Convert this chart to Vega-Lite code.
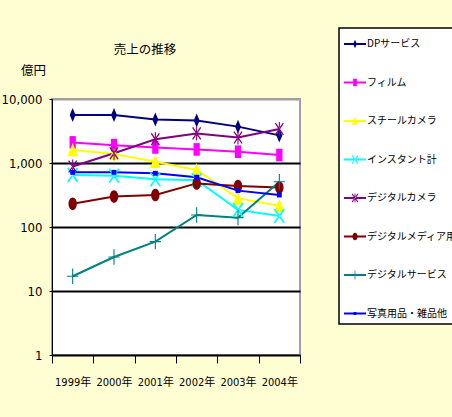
{
  "$schema": "https://vega.github.io/schema/vega-lite/v6.json",
  "width": 248,
  "height": 256,
  "autosize": "none",
  "padding": {"left": 52, "top": 99, "right": 152, "bottom": 62},
  "background": "#FFFDD2",
  "title": {
    "text": "売上の推移",
    "font": "Noto Sans CJK JP",
    "fontSize": 12.5,
    "fontWeight": "normal",
    "color": "black",
    "anchor": "middle",
    "dx": -31,
    "dy": 39,
    "offset": 10
  },
  "config": {
    "view": {"fill": "white", "stroke": "#A0A0A0", "strokeWidth": 2},
    "axis": {"labelFont": "Liberation Sans Narrow, DejaVu Sans Condensed, Noto Sans CJK JP", "labelColor": "black", "titleColor": "black"}
  },
  "data": {
    "values": [
      {"year": "1999年", "series": "DPサービス", "value": 5600},
      {"year": "2000年", "series": "DPサービス", "value": 5600},
      {"year": "2001年", "series": "DPサービス", "value": 4800},
      {"year": "2002年", "series": "DPサービス", "value": 4600},
      {"year": "2003年", "series": "DPサービス", "value": 3700},
      {"year": "2004年", "series": "DPサービス", "value": 2700},
      {"year": "1999年", "series": "フィルム", "value": 2100},
      {"year": "2000年", "series": "フィルム", "value": 1900},
      {"year": "2001年", "series": "フィルム", "value": 1750},
      {"year": "2002年", "series": "フィルム", "value": 1630},
      {"year": "2003年", "series": "フィルム", "value": 1500},
      {"year": "2004年", "series": "フィルム", "value": 1330},
      {"year": "1999年", "series": "スチールカメラ", "value": 1600},
      {"year": "2000年", "series": "スチールカメラ", "value": 1380},
      {"year": "2001年", "series": "スチールカメラ", "value": 1050},
      {"year": "2002年", "series": "スチールカメラ", "value": 780},
      {"year": "2003年", "series": "スチールカメラ", "value": 280},
      {"year": "2004年", "series": "スチールカメラ", "value": 215},
      {"year": "1999年", "series": "インスタント計", "value": 650},
      {"year": "2000年", "series": "インスタント計", "value": 630},
      {"year": "2001年", "series": "インスタント計", "value": 555},
      {"year": "2002年", "series": "インスタント計", "value": 540},
      {"year": "2003年", "series": "インスタント計", "value": 185},
      {"year": "2004年", "series": "インスタント計", "value": 148},
      {"year": "1999年", "series": "デジタルカメラ", "value": 880},
      {"year": "2000年", "series": "デジタルカメラ", "value": 1420},
      {"year": "2001年", "series": "デジタルカメラ", "value": 2350},
      {"year": "2002年", "series": "デジタルカメラ", "value": 2900},
      {"year": "2003年", "series": "デジタルカメラ", "value": 2500},
      {"year": "2004年", "series": "デジタルカメラ", "value": 3400},
      {"year": "1999年", "series": "デジタルメディア用品", "value": 230},
      {"year": "2000年", "series": "デジタルメディア用品", "value": 300},
      {"year": "2001年", "series": "デジタルメディア用品", "value": 316},
      {"year": "2002年", "series": "デジタルメディア用品", "value": 480},
      {"year": "2003年", "series": "デジタルメディア用品", "value": 436},
      {"year": "2004年", "series": "デジタルメディア用品", "value": 415},
      {"year": "1999年", "series": "デジタルサービス", "value": 17},
      {"year": "2000年", "series": "デジタルサービス", "value": 34},
      {"year": "2001年", "series": "デジタルサービス", "value": 59},
      {"year": "2002年", "series": "デジタルサービス", "value": 154},
      {"year": "2003年", "series": "デジタルサービス", "value": 140},
      {"year": "2004年", "series": "デジタルサービス", "value": 510},
      {"year": "1999年", "series": "写真用品・雑品他", "value": 715},
      {"year": "2000年", "series": "写真用品・雑品他", "value": 715},
      {"year": "2001年", "series": "写真用品・雑品他", "value": 690},
      {"year": "2002年", "series": "写真用品・雑品他", "value": 600},
      {"year": "2003年", "series": "写真用品・雑品他", "value": 370},
      {"year": "2004年", "series": "写真用品・雑品他", "value": 316}
    ]
  },
  "encoding": {
    "x": {
      "field": "year",
      "type": "ordinal",
      "scale": {"type": "band", "paddingInner": 0, "paddingOuter": 0},
      "axis": {
        "title": null,
        "labelAngle": 0,
        "labelFontSize": 11,
        "labelPadding": 13,
        "tickBand": "extent",
        "tickSize": 8,
        "tickColor": "black",
        "domainColor": "black",
        "domainWidth": 1,
        "grid": false
      }
    },
    "y": {
      "field": "value",
      "type": "quantitative",
      "scale": {"type": "log", "domain": [1, 10000], "nice": false},
      "axis": {
        "values": [1, 10, 100, 1000, 10000],
        "format": ",",
        "labelFontSize": 13,
        "labelPadding": 7,
        "tickSize": 3,
        "tickColor": "black",
        "domainColor": "black",
        "grid": true,
        "gridColor": {"condition": {"test": "datum.value >= 10000", "value": "#A0A0A0"}, "value": "black"},
        "gridWidth": 2,
        "gridOpacity": 1,
        "title": "億円",
        "titleFont": "Noto Sans CJK JP",
        "titleFontSize": 12.5,
        "titleFontWeight": "normal",
        "titleAngle": 0,
        "titleAlign": "center",
        "titleBaseline": "middle",
        "titleX": -19,
        "titleY": -29
      }
    }
  },
  "layer": [
    {
      "mark": {"type": "line", "strokeWidth": 2},
      "encoding": {
        "color": {
          "field": "series",
          "type": "nominal",
          "scale": {
            "domain": ["DPサービス", "フィルム", "スチールカメラ", "インスタント計", "デジタルカメラ", "デジタルメディア用品", "デジタルサービス", "写真用品・雑品他"],
            "range": ["#000080", "#FF00FF", "#FFFF00", "#00FFFF", "#800080", "#800000", "#008080", "#0000FF"]
          },
          "legend": null
        }
      }
    },
    {
      "mark": {"type": "point", "filled": true, "opacity": 1, "size": 196},
      "encoding": {
        "color": {
          "field": "series",
          "type": "nominal",
          "scale": {
            "domain": ["DPサービス", "フィルム", "スチールカメラ", "インスタント計", "デジタルカメラ", "デジタルメディア用品", "デジタルサービス", "写真用品・雑品他"],
            "range": ["#000080", "#FF00FF", "#FFFF00", "#00FFFF", "#800080", "#800000", "#008080", "#0000FF"]
          },
          "legend": null
        },
        "shape": {
          "field": "series",
          "type": "nominal",
          "scale": {
            "domain": ["DPサービス", "フィルム", "スチールカメラ", "インスタント計", "デジタルカメラ", "デジタルメディア用品", "デジタルサービス", "写真用品・雑品他"],
            "range": [
              "M0,-1L0.42,0L0,1L-0.42,0Z",
              "M-0.45,-0.9H0.45V0.9H-0.45Z",
              "M0,-1L0.75,0.9H-0.75Z",
              "M-0.6,-1.07L0.8,0.93L0.6,1.07L-0.8,-0.93ZM-0.6,1.07L0.8,-0.93L0.6,-1.07L-0.8,0.93Z",
              "M-0.5,-0.9L0.65,0.8L0.5,0.9L-0.65,-0.8ZM-0.5,0.9L0.65,-0.8L0.5,-0.9L-0.65,0.8ZM-0.08,-1H0.08V1H-0.08Z",
              "M0,-0.9A0.6,0.9 0 1,1 0,0.9A0.6,0.9 0 1,1 0,-0.9Z",
              "M-0.08,-1.1H0.08V1.1H-0.08ZM-0.8,-0.08H0.8V0.08H-0.8Z",
              "M-0.35,-0.35H0.35V0.35H-0.35Z"
            ]
          },
          "legend": null
        }
      }
    },
    {
      "mark": {"type": "point", "filled": true, "opacity": 0, "size": 484},
      "encoding": {
        "color": {
          "field": "series",
          "type": "nominal",
          "scale": {
            "domain": ["DPサービス", "フィルム", "スチールカメラ", "インスタント計", "デジタルカメラ", "デジタルメディア用品", "デジタルサービス", "写真用品・雑品他"],
            "range": ["#000080", "#FF00FF", "#FFFF00", "#00FFFF", "#800080", "#800000", "#008080", "#0000FF"]
          },
          "legend": {
            "title": null,
            "orient": "none",
            "legendX": 287,
            "legendY": -71,
            "padding": 5,
            "rowPadding": 22.5,
            "fillColor": "white",
            "strokeColor": "black",
            "symbolSize": 484,
            "symbolOpacity": 1,
            "symbolStrokeWidth": 0,
            "labelFont": "Noto Sans CJK JP",
            "labelFontSize": 10,
            "labelColor": "black",
            "labelOffset": 1,
            "labelLimit": 300,
            "encode": {
              "legend": {"update": {"strokeWidth": {"value": 1.5}}},
              "symbols": {"update": {"opacity": {"value": 1}, "fillOpacity": {"value": 1}}}
            }
          }
        },
        "shape": {
          "field": "series",
          "type": "nominal",
          "scale": {
            "domain": ["DPサービス", "フィルム", "スチールカメラ", "インスタント計", "デジタルカメラ", "デジタルメディア用品", "デジタルサービス", "写真用品・雑品他"],
            "range": [
              "M-1,-0.085H1V0.085H-1ZM0,-0.38L0.17,0L0,0.38L-0.17,0Z",
              "M-1,-0.085H1V0.085H-1ZM-0.17,-0.34H0.17V0.34H-0.17Z",
              "M-1,-0.085H1V0.085H-1ZM0,-0.38L0.28,0.34H-0.28Z",
              "M-1,-0.085H1V0.085H-1ZM-0.23,-0.41L0.3,0.35L0.23,0.41L-0.3,-0.35ZM-0.23,0.41L0.3,-0.35L0.23,-0.41L-0.3,0.35Z",
              "M-1,-0.085H1V0.085H-1ZM-0.23,-0.41L0.3,0.35L0.23,0.41L-0.3,-0.35ZM-0.23,0.41L0.3,-0.35L0.23,-0.41L-0.3,0.35ZM-0.04,-0.42H0.04V0.42H-0.04Z",
              "M-1,-0.085H1V0.085H-1ZM0,-0.34A0.23,0.34 0 1,1 0,0.34A0.23,0.34 0 1,1 0,-0.34Z",
              "M-1,-0.085H1V0.085H-1ZM-0.035,-0.42H0.035V0.42H-0.035Z",
              "M-1,-0.085H1V0.085H-1ZM-0.13,-0.13H0.13V0.13H-0.13Z"
            ]
          },
          "legend": {
            "title": null,
            "orient": "none",
            "legendX": 287,
            "legendY": -71,
            "padding": 5,
            "rowPadding": 22.5,
            "fillColor": "white",
            "strokeColor": "black",
            "symbolSize": 484,
            "symbolOpacity": 1,
            "symbolStrokeWidth": 0,
            "labelFont": "Noto Sans CJK JP",
            "labelFontSize": 10,
            "labelColor": "black",
            "labelOffset": 1,
            "labelLimit": 300,
            "encode": {
              "legend": {"update": {"strokeWidth": {"value": 1.5}}},
              "symbols": {"update": {"opacity": {"value": 1}, "fillOpacity": {"value": 1}}}
            }
          }
        }
      }
    }
  ],
  "resolve": {"scale": {"color": "independent", "shape": "independent"}}
}
